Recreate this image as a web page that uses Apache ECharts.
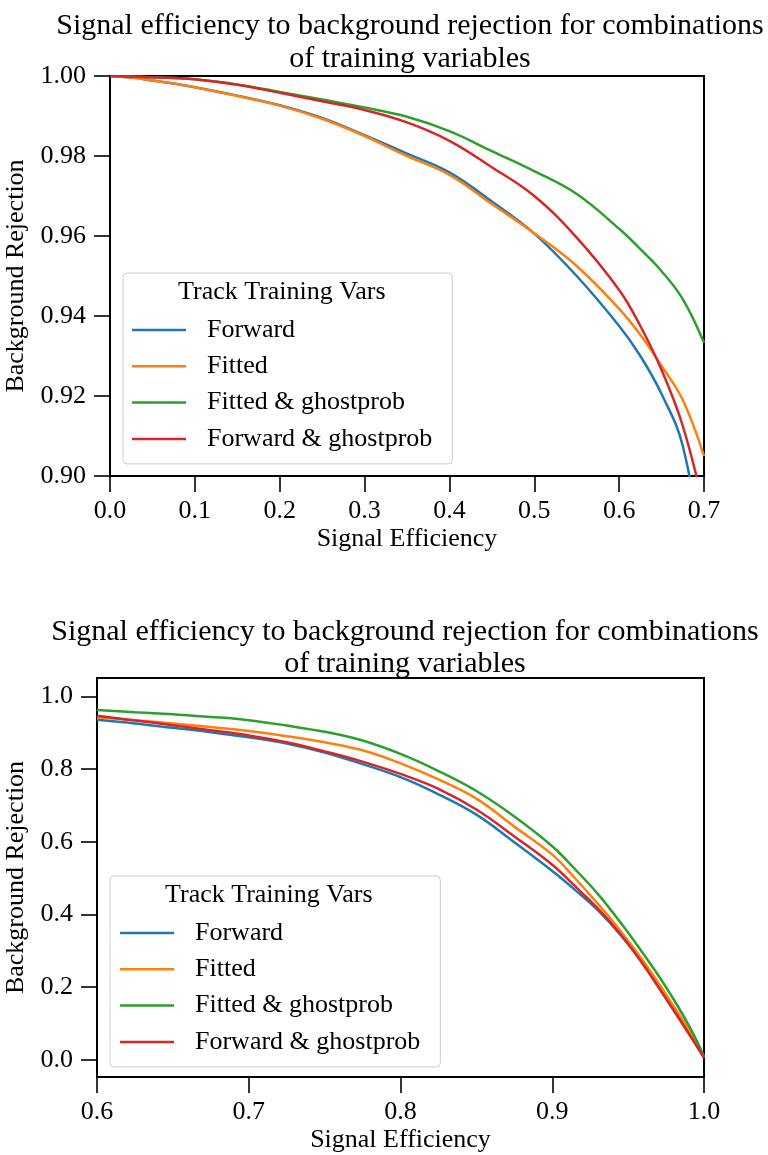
<!DOCTYPE html>
<html><head><meta charset="utf-8">
<script src="https://cdn.jsdelivr.net/npm/echarts@6/dist/echarts.min.js"></script>
<style>html,body{margin:0;padding:0;background:#fff}#c{width:768px;height:1155px}</style>
</head><body><div id="c"></div>
<script>
const titleText = 'Signal efficiency to background rejection for combinations\nof training variables';
const legendTitle = 'Track Training Vars';
const xName = 'Signal Efficiency';
const yName = 'Background Rejection';
const seriesNames = ['Forward', 'Fitted', 'Fitted & ghostprob', 'Forward & ghostprob'];
const colors = ['#1f77b4', '#ff7f0e', '#2ca02c', '#d62728'];

// Top panel
const topX = [0, 0.025, 0.05, 0.075, 0.1, 0.15, 0.2, 0.25, 0.3, 0.35, 0.4, 0.45, 0.5, 0.55, 0.6, 0.625, 0.65, 0.675, 0.7];
const topForward = [1.0, 0.9996, 0.9989, 0.9981, 0.9972, 0.9951, 0.9927, 0.9895, 0.9852, 0.9806, 0.9759, 0.9686, 0.9606, 0.9500, 0.9375, 0.9300, 0.9205, 0.9075, 0.878];
const topFitted = [1.0, 0.9996, 0.9989, 0.9981, 0.9972, 0.9950, 0.9926, 0.9893, 0.9850, 0.9800, 0.9753, 0.9680, 0.9607, 0.9525, 0.9418, 0.9353, 0.9275, 0.9190, 0.9050];
const topFittedGhost = [1.0, 0.9999, 0.9997, 0.9995, 0.9992, 0.9979, 0.9960, 0.9941, 0.9921, 0.9898, 0.9862, 0.9812, 0.9762, 0.9705, 0.9618, 0.9567, 0.9512, 0.9442, 0.9333];
const topForwardGhost = [1.0, 0.9999, 0.9997, 0.9995, 0.9992, 0.9978, 0.9958, 0.9937, 0.9915, 0.9884, 0.9838, 0.9772, 0.9700, 0.9596, 0.9465, 0.9375, 0.9265, 0.9125, 0.892];
const topXTicks = [0, 0.1, 0.2, 0.3, 0.4, 0.5, 0.6, 0.7];
const topYTicks = [0.90, 0.92, 0.94, 0.96, 0.98, 1.00];

// Bottom panel
const bottomX = [0.6, 0.625, 0.65, 0.675, 0.7, 0.725, 0.75, 0.775, 0.8, 0.825, 0.85, 0.875, 0.9, 0.915, 0.93, 0.945, 0.96, 0.975, 0.99, 1.0];
const bottomForward = [0.936, 0.926, 0.914, 0.902, 0.888, 0.871, 0.846, 0.814, 0.778, 0.731, 0.675, 0.599, 0.520, 0.468, 0.412, 0.344, 0.265, 0.172, 0.079, 0.006];
const bottomFitted = [0.943, 0.935, 0.926, 0.916, 0.905, 0.891, 0.874, 0.852, 0.816, 0.772, 0.719, 0.642, 0.565, 0.500, 0.430, 0.355, 0.272, 0.180, 0.083, 0.008];
const bottomFittedGhost = [0.963, 0.957, 0.951, 0.944, 0.935, 0.920, 0.903, 0.879, 0.842, 0.795, 0.740, 0.670, 0.588, 0.525, 0.457, 0.378, 0.292, 0.200, 0.095, 0.010];
const bottomForwardGhost = [0.947, 0.934, 0.921, 0.907, 0.893, 0.874, 0.849, 0.821, 0.787, 0.746, 0.689, 0.615, 0.537, 0.478, 0.417, 0.346, 0.262, 0.168, 0.072, 0.006];
const bottomXTicks = [0.6, 0.7, 0.8, 0.9, 1.0];
const bottomYTicks = [0.0, 0.2, 0.4, 0.6, 0.8, 1.0];

const FONT = "'Liberation Serif', 'DejaVu Serif', serif";
const FS = 26;

const topData = [topForward, topFitted, topFittedGhost, topForwardGhost];
const bottomData = [bottomForward, bottomFitted, bottomFittedGhost, bottomForwardGhost];

function pairs(xs, ys) { return xs.map((x, i) => [x, ys[i]]); }

function xAxisCfg(idx, min, max, ticks, digits) {
  return {
    type: 'value', gridIndex: idx, min: min, max: max, interval: 0.1,
    name: xName, nameLocation: 'middle', nameGap: 50,
    nameTextStyle: { fontFamily: FONT, fontSize: FS, color: '#000' },
    axisLine: { show: true, onZero: false, lineStyle: { color: '#000', width: 2 } },
    axisTick: { show: true, length: 16, customValues: ticks, lineStyle: { color: '#000', width: 1.6 } },
    axisLabel: { customValues: ticks, margin: 22, fontFamily: FONT, fontSize: FS, color: '#000',
      formatter: v => Number(v).toFixed(digits) },
    splitLine: { show: false }
  };
}
function yAxisCfg(idx, min, max, ticks, digits, gap) {
  return {
    type: 'value', gridIndex: idx, min: min, max: max,
    name: yName, nameLocation: 'middle', nameGap: gap,
    nameTextStyle: { fontFamily: FONT, fontSize: FS, color: '#000' },
    axisLine: { show: true, onZero: false, lineStyle: { color: '#000', width: 2 } },
    axisTick: { show: true, length: 16, customValues: ticks, lineStyle: { color: '#000', width: 1.6 } },
    axisLabel: { customValues: ticks, margin: 24, fontFamily: FONT, fontSize: FS, color: '#000',
      formatter: v => Number(v).toFixed(digits) },
    splitLine: { show: false }
  };
}

const series = [];
seriesNames.forEach((n, i) => {
  series.push({ name: n, type: 'line', xAxisIndex: 0, yAxisIndex: 0, data: pairs(topX, topData[i]),
    showSymbol: false, symbol: 'none', clip: true, smooth: 0.4,
    lineStyle: { color: colors[i], width: 2.5 }, itemStyle: { color: colors[i] }, z: 2 + (i === 3 ? 1 : 0) });
});
seriesNames.forEach((n, i) => {
  series.push({ name: n, type: 'line', xAxisIndex: 1, yAxisIndex: 1, data: pairs(bottomX, bottomData[i]),
    showSymbol: false, symbol: 'none', clip: true, smooth: 0.4,
    lineStyle: { color: colors[i], width: 2.5 }, itemStyle: { color: colors[i] }, z: 2 });
});

function legendCfg(left, top, padLeft) {
  return {
    orient: 'vertical', left: left, top: top, data: seriesNames,
    icon: 'rect', itemWidth: 54, itemHeight: 2.5, itemGap: 10.3,
    padding: [44, 20, 12, padLeft],
    backgroundColor: 'rgba(255,255,255,0.8)', borderColor: '#cccccc', borderWidth: 1, borderRadius: 4,
    selectedMode: false,
    textStyle: { fontFamily: FONT, fontSize: FS, color: '#000', lineHeight: 26, padding: [0, 0, 0, 16] }
  };
}

const chart = echarts.init(document.getElementById('c'), null, { renderer: 'canvas' });
chart.setOption({
  backgroundColor: '#fff',
  animation: false,
  title: [
    { text: titleText, left: 405, top: 5, textAlign: 'center',
      textStyle: { fontFamily: FONT, fontSize: 30, fontWeight: 'normal', color: '#000', lineHeight: 33 } },
    { text: titleText, left: 400, top: 611, textAlign: 'center',
      textStyle: { fontFamily: FONT, fontSize: 30, fontWeight: 'normal', color: '#000', lineHeight: 32 } }
  ],
  grid: [
    { left: 110, top: 76, width: 594, height: 400, show: true, borderColor: '#000', borderWidth: 2, backgroundColor: 'transparent', outerBoundsMode: 'none', containLabel: false },
    { left: 97, top: 678, width: 607, height: 399, show: true, borderColor: '#000', borderWidth: 2, backgroundColor: 'transparent', outerBoundsMode: 'none', containLabel: false }
  ],
  xAxis: [ xAxisCfg(0, 0, 0.7, topXTicks, 1), xAxisCfg(1, 0.6, 1.0, bottomXTicks, 1) ],
  yAxis: [ yAxisCfg(0, 0.9, 1.0, topYTicks, 2, 80), yAxisCfg(1, -0.047, 1.051, bottomYTicks, 1, 66) ],
  legend: [ legendCfg(123, 273, 9), legendCfg(110, 876, 10) ],
  graphic: [
    { type: 'text', left: 178, top: 279, z: 100, style: { text: legendTitle, font: FS + 'px ' + FONT, fill: '#000' } },
    { type: 'text', left: 165, top: 882, z: 100, style: { text: legendTitle, font: FS + 'px ' + FONT, fill: '#000' } }
  ],
  series: series
});
</script></body></html>
